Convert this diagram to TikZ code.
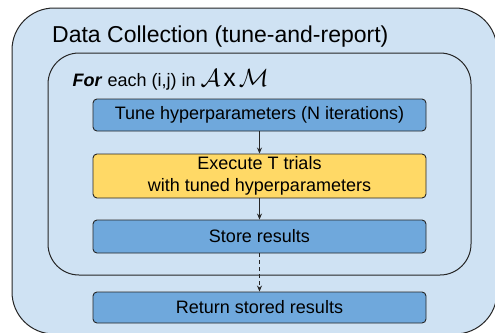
\documentclass[tikz,border=0pt]{standalone}
\usepackage{fontspec}
\setmainfont{Liberation Sans}
\usetikzlibrary{arrows.meta}

\definecolor{paleblue}{HTML}{CFE2F3}
\definecolor{stepblue}{HTML}{6FA8DC}
\definecolor{stepyellow}{HTML}{FFD966}

\begin{document}
\begin{tikzpicture}[x=1pt,y=-1pt,
  frame/.style={draw=black!85, line width=1pt, fill=paleblue},
  stepbox/.style={draw=black!85, line width=0.9pt, fill=stepblue, rounded corners=4pt,
    minimum width=333pt, inner sep=0pt, align=center, font=\fontsize{18}{22}\selectfont},
  label/.style={anchor=base west, inner sep=0pt},
  flow/.style={-{Stealth[length=6pt,width=5pt]}, line width=0.8pt, draw=black!85}]

%picture size
\useasboundingbox (0,0) rectangle (495,332);
\clip (0,0) rectangle (495,332);

%big rectangle
\draw[frame, rounded corners=42pt] (12,8) rectangle (497,334);
\node[label, font=\fontsize{23}{27}\selectfont] (title) at (52,42) {Data Collection (tune-and-report)};

%loop rectangle
\draw[frame, rounded corners=31pt] (48,53) rectangle (471,275);
\node[label, font=\fontsize{18}{22}\selectfont] (loop) at (72.5,86)
  {\textbf{\textit{For}} each (i,j) in {\fontsize{24}{24}\selectfont$\mathcal{A}$\kern3pt{\fontsize{25}{25}\selectfont x}\kern3pt$\mathcal{M}$}};

%steps
\node[stepbox, minimum height=32pt] (tune) at (259.5,115) {Tune hyperparameters (N iterations)};
\node[stepbox, minimum height=44pt, fill=stepyellow] (trials) at (259.5,176) {Execute T trials\\with tuned hyperparameters};
\node[stepbox, minimum height=33pt] (store) at (259.5,236.5) {Store results};
\node[stepbox, minimum height=31pt] (return) at (259.5,307.5) {Return stored results};

%arrows
\draw[flow] (tune) -- (trials);
\draw[flow] (trials) -- (store);
\draw[flow, dash pattern=on 4pt off 3pt] (store) -- (return);

\end{tikzpicture}
\end{document}
